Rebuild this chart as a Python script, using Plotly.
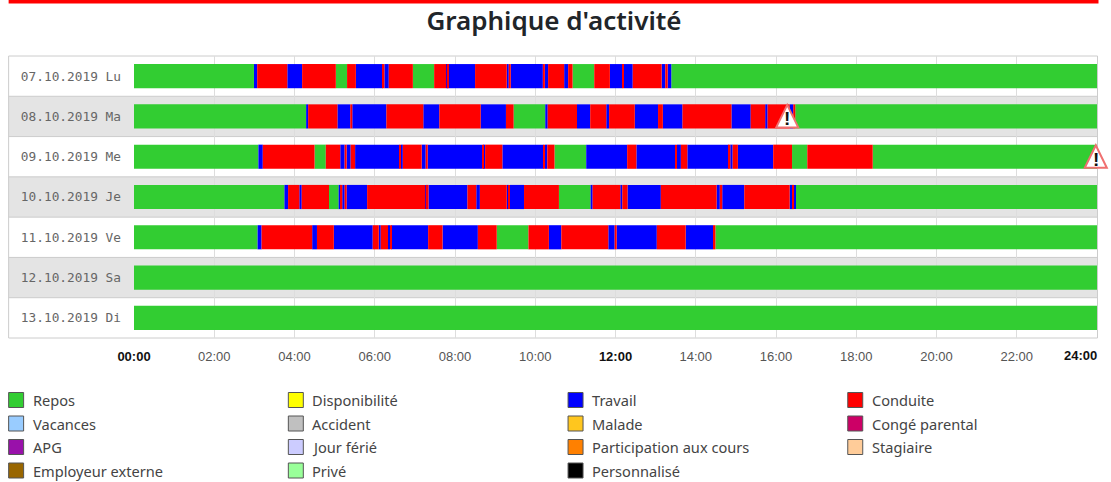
import plotly.graph_objects as go

DAYS = ["07.10.2019 Lu", "08.10.2019 Ma", "09.10.2019 Me", "10.10.2019 Je",
        "11.10.2019 Ve", "12.10.2019 Sa", "13.10.2019 Di"]

# End hour of each consecutive activity block, and its activity code
ENDS_07 = [2.99, 3.07, 3.82, 4.19, 5.03, 5.31, 5.53, 6.20, 6.24, 6.35, 6.95, 7.48, 7.78, 7.82, 7.84, 8.50, 9.29,
           9.34, 9.39, 10.19, 10.24, 10.32, 10.72, 10.82, 10.93, 11.47, 11.86, 12.17, 12.21, 12.43, 13.15,
           13.24, 13.30, 13.39, 24]
CODES_07 = "R T C T C R C T C T C R C T C T C T C T C T C T C R C T C T C T C T R".split()

ENDS_08 = [4.29, 4.34, 5.07, 5.39, 5.44, 6.29, 7.21, 7.61, 8.64, 9.27, 9.46, 10.25, 10.31, 11.04, 11.37, 11.77,
           11.84, 12.48, 13.06, 13.18, 13.67, 14.89, 15.37, 15.73, 15.79, 16.34, 16.43, 16.48, 24]
CODES_08 = "R T C T C T C T C T C R T C T C T C T C T C T C T C T C R".split()

ENDS_09 = [3.10, 3.21, 4.50, 4.78, 5.14, 5.25, 5.30, 5.40, 5.51, 6.62, 6.65, 6.70, 7.17, 7.27, 7.32, 8.68, 8.70,
           8.75, 9.18, 10.21, 10.24, 10.30, 10.48, 11.27, 12.29, 12.52, 13.49, 13.53, 13.63, 13.79, 14.82,
           14.86, 14.92, 15.05, 15.93, 16.40, 16.78, 18.41, 24]
CODES_09 = "R T C R C T C T C T C T C T C T C T C T C T C R T C T C T C T C T C T C R C R".split()

ENDS_10 = [3.75, 3.84, 4.12, 4.18, 4.86, 5.10, 5.15, 5.19, 5.25, 5.30, 5.81, 7.26, 7.30, 7.34, 8.31, 8.53, 8.62,
           9.29, 9.34, 9.37, 9.72, 10.59, 11.38, 11.43, 12.12, 12.17, 12.30, 13.13, 14.52, 14.60, 14.66, 15.21,
           16.34, 16.41, 16.45, 16.48, 24]
CODES_10 = "R T C T C R T C T C T C T C T C T C T C T C R T C T C T C T C T C T C T R".split()

ENDS_11 = [3.08, 3.18, 4.44, 4.56, 4.98, 5.95, 6.10, 6.15, 6.33, 6.38, 6.41, 7.33, 7.69, 8.57, 9.04, 9.83, 10.34,
           10.65, 11.82, 11.98, 12.03, 13.03, 13.75, 14.43, 14.49, 24]
CODES_11 = "R T C T C T C T C T C T C T C R C T C T C T C T C R".split()

ENDS_12 = [24]
CODES_12 = ["R"]
ENDS_13 = [24]
CODES_13 = ["R"]

ALL_ENDS = [ENDS_07, ENDS_08, ENDS_09, ENDS_10, ENDS_11, ENDS_12, ENDS_13]
ALL_CODES = [CODES_07, CODES_08, CODES_09, CODES_10, CODES_11, CODES_12, CODES_13]

ACTIVITY_NAMES = {"R": "Repos", "T": "Travail", "C": "Conduite"}
ACTIVITY_COLORS = {"R": "#32cd32", "T": "#0000ff", "C": "#ff0000"}

WARN_DAYS = ["08.10.2019 Ma", "09.10.2019 Me"]
WARN_HOURS = [16.28, 23.97]

TICK_HOURS = [0, 2, 4, 6, 8, 10, 12, 14, 16, 18, 20, 22, 24]
BOLD = "<b><span style='color:#111111'>%s</span></b>"
TICK_TEXT = [BOLD % "00:00", "02:00", "04:00", "06:00", "08:00", "10:00", BOLD % "12:00",
             "14:00", "16:00", "18:00", "20:00", "22:00", ""]

LEGEND_LABELS = ["Repos", "Disponibilité", "Travail", "Conduite",
                 "Vacances", "Accident", "Malade", "Congé parental",
                 "APG", "Jour férié", "Participation aux cours", "Stagiaire",
                 "Employeur externe", "Privé", "Personnalisé"]
LEGEND_COLORS = ["#32cd32", "#ffff00", "#0000ff", "#ff0000",
                 "#99ccff", "#c0c0c0", "#ffc61e", "#cc0066",
                 "#9911aa", "#ccccff", "#ff8000", "#ffcc99",
                 "#996600", "#99ff99", "#000000"]

W, H = 1111, 482
L, R, T, B = 133.5, 1097.5, 56, 338


def px(x):
    return (x - L) / (R - L)


def py(y):
    return (B - y) / (B - T)


fig = go.Figure()

for code, name in ACTIVITY_NAMES.items():
    ys, bases, widths = [], [], []
    for day, ends, codes in zip(DAYS, ALL_ENDS, ALL_CODES, strict=True):
        start = 0
        for end, c in zip(ends, codes, strict=True):
            if c == code:
                ys.append(day)
                bases.append(start)
                widths.append(end - start)
            start = end
    fig.add_trace(go.Bar(y=ys, x=widths, base=bases, orientation="h", name=name,
                         marker=dict(color=ACTIVITY_COLORS[code], line=dict(width=0)),
                         width=0.6, showlegend=False))

shapes = []
# top red rule
shapes.append(dict(type="rect", xref="paper", yref="paper", x0=px(8), x1=px(1099), y0=py(0), y1=py(3.5),
                   fillcolor="#ff0000", line=dict(width=0)))
rh = (B - T) / 7
for i in range(7):
    if i % 2 == 1:
        shapes.append(dict(type="rect", xref="paper", yref="paper", x0=px(8), x1=px(1098),
                           y0=py(T + i * rh), y1=py(T + (i + 1) * rh), fillcolor="#e4e4e4",
                           line=dict(width=0), layer="below"))
for i in range(1, 7):
    shapes.append(dict(type="line", xref="paper", yref="paper", x0=px(8), x1=px(1098),
                       y0=py(T + i * rh), y1=py(T + i * rh), line=dict(color="#cccccc", width=1), layer="below"))
shapes.append(dict(type="rect", xref="paper", yref="paper", x0=px(8), x1=px(1098), y0=py(T), y1=py(B),
                   line=dict(color="#cccccc", width=1), layer="below"))

annotations = [dict(text="<b>24:00</b>", xref="x", yref="paper", x=24, y=py(355), xanchor="right", yanchor="middle",
                    xshift=2, showarrow=False, font=dict(family="Liberation Sans", size=13, color="#111111"))]

# warning icons anchored on the day row and hour, sized in pixels so they can overhang the plot edge
for day, hour in zip(WARN_DAYS, WARN_HOURS, strict=True):
    row = DAYS.index(day)
    shapes.append(dict(type="path", xref="paper", yref="paper", xsizemode="pixel", ysizemode="pixel",
                       xanchor=hour / 24, yanchor=1 - (row + 0.5) / 7,
                       path="M 0 11.5 L 11 -11 L -11 -11 Z", fillcolor="#ffffff",
                       line=dict(color="#f07070", width=2), layer="above"))
    annotations.append(dict(text="<b>!</b>", xref="x", yref="y", x=hour, y=day, yshift=-2.5, showarrow=False,
                            xanchor="center", yanchor="middle",
                            font=dict(family="Liberation Sans", size=19, color="#111111")))

COL_X = [8, 288, 568, 848]
ROW_Y = [400, 423.5, 447, 470.5]
for idx, (label, color) in enumerate(zip(LEGEND_LABELS, LEGEND_COLORS, strict=True)):
    cx = COL_X[idx % 4]
    cy = ROW_Y[idx // 4]
    shapes.append(dict(type="rect", xref="paper", yref="paper", x0=px(cx), x1=px(cx + 15), y0=py(cy - 7.5), y1=py(cy + 7.5),
                       fillcolor=color, line=dict(color="#555555", width=1)))
    annotations.append(dict(text=label, xref="paper", yref="paper", x=px(cx + 22), y=py(cy), xanchor="left", yanchor="middle",
                            showarrow=False, font=dict(family="Noto Sans", size=14.6, color="#444444")))

fig.update_layout(
    width=W, height=H, autosize=False,
    margin=dict(l=L, r=W - R, t=T, b=H - B, pad=0),
    paper_bgcolor="#ffffff", plot_bgcolor="rgba(0,0,0,0)",
    barmode="overlay", bargap=0.4,
    showlegend=False,
    title=dict(text="Graphique d'activité", x=554 / W, xanchor="center", y=1 - 21 / H, yanchor="middle",
               font=dict(family="Noto Sans", size=26, weight=600, color="#212529")),
    xaxis=dict(range=[0, 24], tickvals=TICK_HOURS, ticktext=TICK_TEXT, tickangle=0, showgrid=True, gridcolor="#dddddd",
               gridwidth=1, zeroline=False, showline=False, ticks="", ticklabelstandoff=9,
               tickfont=dict(family="Liberation Sans", size=13, color="#555555")),
    yaxis=dict(type="category", categoryorder="array", categoryarray=DAYS, range=[6.5, -0.5], showgrid=False,
               zeroline=False, showline=False, ticks="", ticklabelstandoff=12,
               tickfont=dict(family="DejaVu Sans Mono", size=12.8, color="#666666")),
    shapes=shapes, annotations=annotations,
    hovermode="closest",
)

fig.write_html("out.html", config={"displayModeBar": False},
               post_script="document.body.style.margin='0';document.documentElement.style.overflow='hidden';")
